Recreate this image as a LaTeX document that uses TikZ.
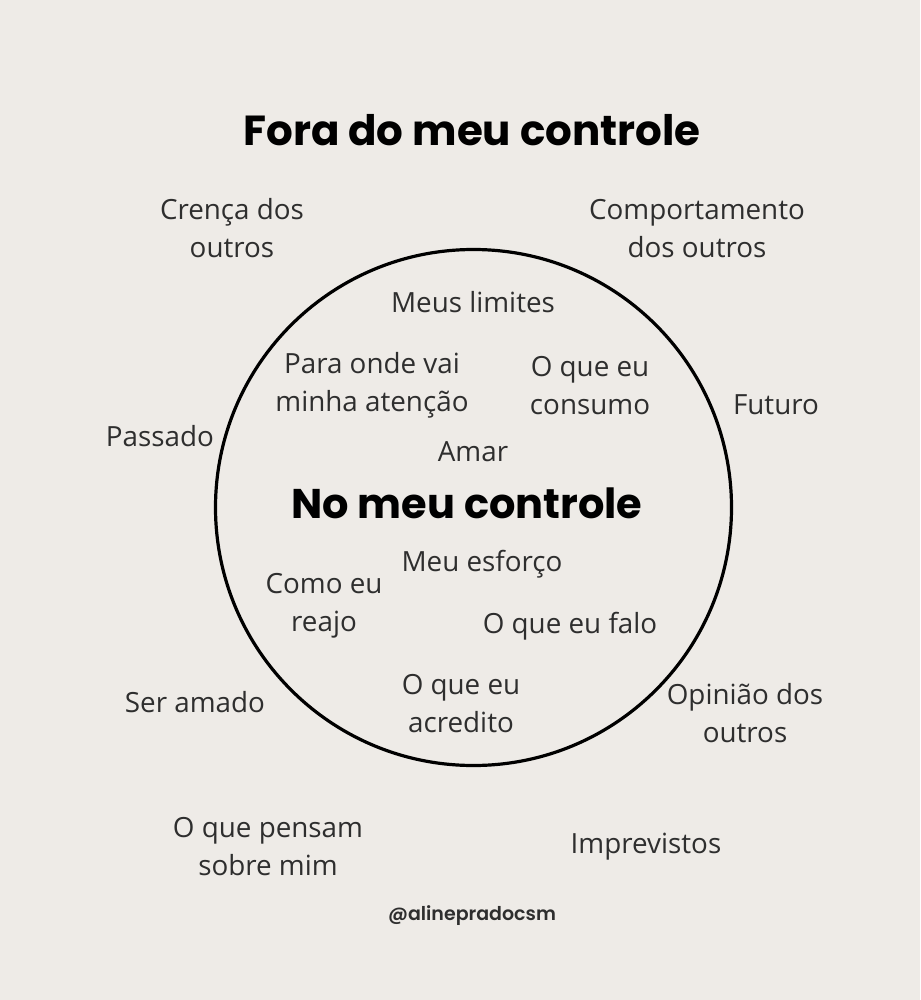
\documentclass[tikz,border=0pt]{standalone}
\usepackage{fontspec}
\setmainfont{Open Sans}
\newfontfamily\titlefont{Poppins}[UprightFont=* Bold]
\newfontfamily\tagfont{Poppins}[UprightFont=* SemiBold]
\definecolor{bg}{HTML}{EEEBE7}
\definecolor{ink}{HTML}{2E2E2E}
\begin{document}
\begin{tikzpicture}[x=1pt,y=-1pt,
  lbl/.style={text=ink,align=center,font=\fontsize{27.8}{38}\selectfont,inner sep=0pt},
  ttl/.style={text=black,font=\titlefont\fontsize{42}{48}\selectfont,inner sep=0pt},
  ttlb/.style={text=black,font=\titlefont\fontsize{41.5}{48}\selectfont,inner sep=0pt},
  tag/.style={text=ink,font=\tagfont\fontsize{19}{22}\selectfont,inner sep=0pt}]
\fill[bg] (0,0) rectangle (920,1000);
\useasboundingbox (0,0) rectangle (920,1000);
\node[draw=black,line width=3.2pt,circle,minimum size=516pt,inner sep=0pt] (c) at (473.5,507.5) {};
\node[ttl] (t1) at (472,130) {Fora do meu controle};
\node[ttlb] (t2) at (467,503) {No meu controle};
\node[lbl] (a1) at (232,228.5) {Crença dos\\outros};
\node[lbl] (a2) at (697,228.5) {Comportamento\\dos outros};
\node[lbl] (a3) at (473,302) {Meus limites};
\node[lbl] (a4) at (372,385.5) {Para onde vai\\minha atenção};
\node[lbl] (a5) at (590,385.5) {O que eu\\consumo};
\node[lbl] (a6) at (776,405) {Futuro};
\node[lbl] (a7) at (160,436) {Passado};
\node[lbl] (a8) at (473,452) {Amar};
\node[lbl] (a9) at (482,564) {Meu esforço};
\node[lbl] (a10) at (324,606) {Como eu\\reajo};
\node[lbl] (a11) at (570,626) {O que eu falo};
\node[lbl] (a12) at (461,703.5) {O que eu\\acredito};
\node[lbl] (a13) at (195,702) {Ser amado};
\node[lbl] (a14) at (745,713.5) {Opinião dos\\outros};
\node[lbl] (a15) at (268,846.5) {O que pensam\\sobre mim};
\node[lbl] (a16) at (646,847) {Imprevistos};
\node[tag] (tg) at (472,916) {@alinepradocsm};
\end{tikzpicture}
\end{document}
